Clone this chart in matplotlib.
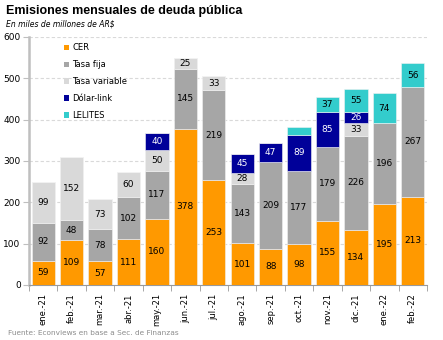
import matplotlib
matplotlib.use("Agg")
import matplotlib.pyplot as plt
from matplotlib.patches import Patch
import numpy as np

months = ["ene.-21", "feb.-21", "mar.-21", "abr.-21", "may.-21", "jun.-21", "jul.-21",
          "ago.-21", "sep.-21", "oct.-21", "nov.-21", "dic.-21", "ene.-22", "feb.-22"]
cer = [59, 109, 57, 111, 160, 378, 253, 101, 88, 98, 155, 134, 195, 213]
tasa_fija = [92, 48, 78, 102, 117, 145, 219, 143, 209, 177, 179, 226, 196, 267]
tasa_variable = [99, 152, 73, 60, 50, 25, 33, 28, 0, 0, 0, 33, 0, 0]
dolar_link = [0, 0, 0, 0, 40, 0, 0, 45, 47, 89, 85, 26, 0, 0]
lelites = [0, 0, 0, 0, 0, 0, 0, 0, 0, 18, 37, 55, 74, 56]

series = [
    ("CER", cer, "#FF9900", "black"),
    ("Tasa fija", tasa_fija, "#A6A6A6", "black"),
    ("Tasa variable", tasa_variable, "#D9D9D9", "black"),
    ("Dólar-link", dolar_link, "#000099", "white"),
    ("LELITES", lelites, "#33CCCC", "black"),
]

fig = plt.figure(figsize=(4.43, 3.40), dpi=100)
ax = fig.add_axes([29/443, 1-285/340, (427-29)/443, (285-37)/340])

x = np.arange(len(months))
bottom = np.zeros(len(months))
handles = []
for name, vals, color, tcolor in series:
    vals = np.array(vals, dtype=float)
    ax.bar(x, vals, bottom=bottom, width=0.82, color=color,
           edgecolor="#F2F2F2", linewidth=0.4, zorder=3)
    for xi, v, b in zip(x, vals, bottom):
        if v >= 20:
            ax.text(xi, b + v/2, f"{int(v)}", ha="center", va="center",
                    fontsize=6.5, color=tcolor, zorder=4)
    bottom += vals
    handles.append(Patch(facecolor=color, edgecolor="none", label=name))

ax.set_xlim(-0.5, len(months) - 0.5)
ax.set_ylim(0, 600)
ax.set_yticks(range(0, 601, 100))
ax.tick_params(axis="y", labelsize=6.5, length=4, color="#BFBFBF", pad=2)
ax.set_xticks(x)
ax.set_xticklabels(months, rotation=90, fontsize=6)
ax.tick_params(axis="x", which="major", length=0, pad=6)
ax.set_xticks(np.arange(-0.5, len(months), 1), minor=True)
ax.tick_params(axis="x", which="minor", length=4, color="#999999")

ax.grid(axis="y", linestyle=(0, (3, 2)), color="#D9D9D9", linewidth=0.8, zorder=0)
for s in ["top", "right"]:
    ax.spines[s].set_visible(False)
ax.spines["left"].set_color("#BFBFBF")
ax.spines["left"].set_linewidth(1.8)
ax.spines["bottom"].set_color("#999999")
ax.spines["bottom"].set_linewidth(0.8)

leg = ax.legend(handles=handles, loc="upper left", bbox_to_anchor=(0.075, 0.995),
                frameon=False, fontsize=6, handlelength=0.6, handleheight=0.6,
                handletextpad=0.4, labelspacing=0.95, borderaxespad=0.2)

fig.text(6/443, 1-11/340, "Emisiones mensuales de deuda pública", fontsize=9,
         fontweight="bold", family="Liberation Sans", ha="left", va="center")
fig.text(6/443, 1-24/340, "En miles de millones de AR$", fontsize=5.5,
         style="italic", ha="left", va="center")
fig.text(8/443, 1-333/340, "Fuente: Econviews en base a Sec. de Finanzas",
         fontsize=5.3, color="#8C8C8C", ha="left", va="center")

fig.savefig("out.png", dpi=100)
